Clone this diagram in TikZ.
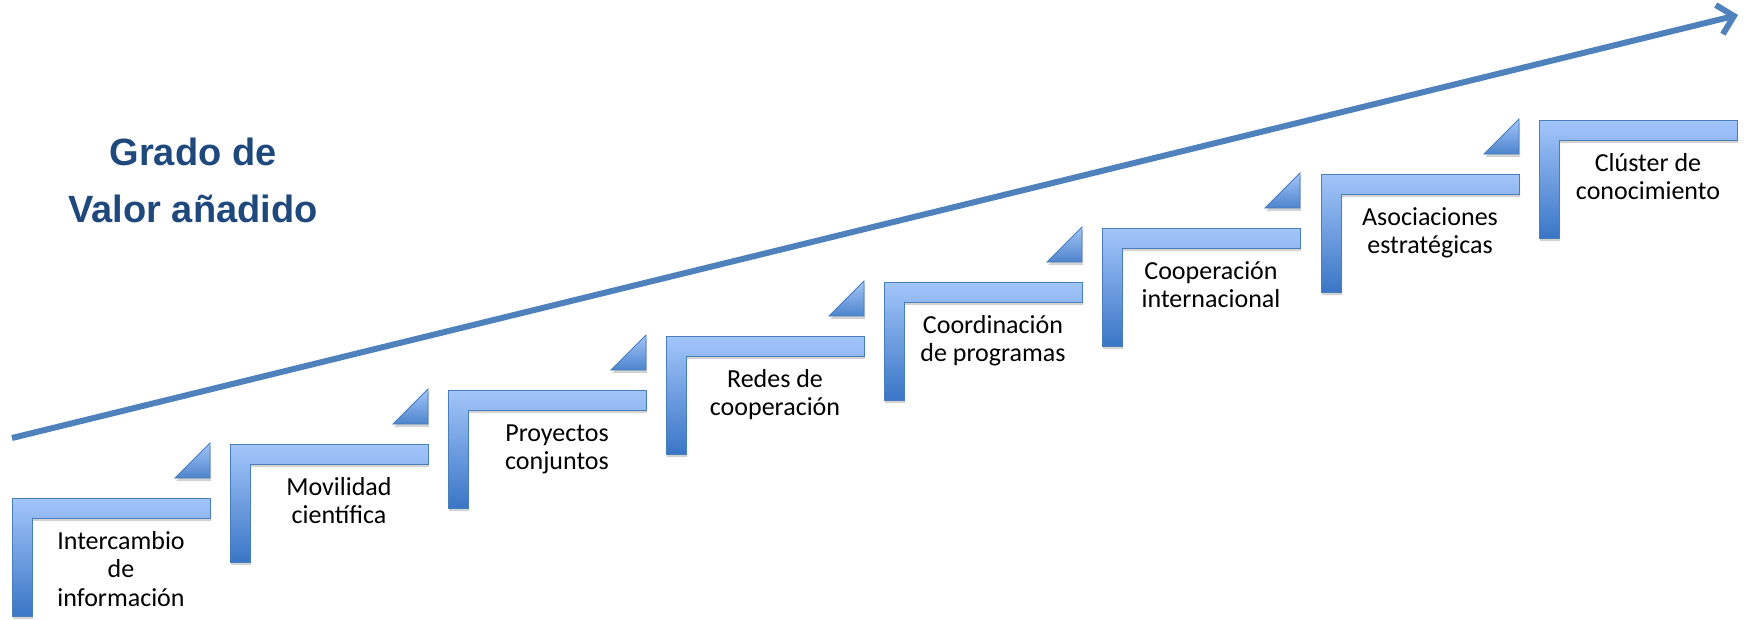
\documentclass[tikz,border=0pt]{standalone}
\usepackage{fontspec}
\setmainfont{Carlito}
\newfontfamily\titlefont{Liberation Sans}
\usetikzlibrary{arrows.meta,shadows}

\definecolor{steptop}{HTML}{A3C6FA}
\definecolor{stepbottom}{HTML}{3A76C6}
\definecolor{stepedge}{HTML}{4A7EBB}
\definecolor{arrowblue}{HTML}{4F81BD}
\definecolor{titleblue}{HTML}{1F497D}

\begin{document}
\begin{tikzpicture}[x=1pt, y=-1pt,
  stepshape/.style={draw=stepedge, line width=0.8pt, top color=steptop, bottom color=stepbottom,
    drop shadow={opacity=0.35, shadow xshift=1pt, shadow yshift=-3pt}},
  stepwedge/.style={draw=stepedge, line width=0.8pt, top color=steptop, bottom color=stepbottom!90!white,
    drop shadow={opacity=0.35, shadow xshift=1pt, shadow yshift=-3pt}},
  steplabel/.style={anchor=north, inner sep=0pt, align=center, font=\fontsize{26}{28.5}\selectfont}]
\useasboundingbox (0, 0) rectangle (1752, 619);

% Rising arrow
\coordinate (arrowstart) at (12, 438);
\coordinate (arrowend) at (1738, 15);
\draw[arrowblue, line width=6pt, -{Straight Barb[length=15pt, width=30pt]}] (arrowstart) -- (arrowend);

% Title
\node[anchor=north, inner sep=0pt, align=center, text=titleblue,
  font=\titlefont\bfseries\fontsize{38}{57}\selectfont] (titulo) at (193, 125) {\strut Grado de\\Valor añadido};

% Draw the steps and insert the labels
\draw[stepshape] (12, 498) -- ++(198, 0) -- ++(0, 20) -- ++(-178, 0) -- ++(0, 98) -- ++(-20, 0) -- cycle;
\draw[stepwedge] (175, 478) -- ++(35, 0) -- ++(0, -35) -- cycle;
\node[steplabel] (paso1) at (121, 529) {\strut Intercambio\\de\\información};
\draw[stepshape] (230, 444) -- ++(198, 0) -- ++(0, 20) -- ++(-178, 0) -- ++(0, 98) -- ++(-20, 0) -- cycle;
\draw[stepwedge] (393, 424) -- ++(35, 0) -- ++(0, -35) -- cycle;
\node[steplabel] (paso2) at (339, 475) {\strut Movilidad\\científica};
\draw[stepshape] (448, 390) -- ++(198, 0) -- ++(0, 20) -- ++(-178, 0) -- ++(0, 98) -- ++(-20, 0) -- cycle;
\draw[stepwedge] (611, 370) -- ++(35, 0) -- ++(0, -35) -- cycle;
\node[steplabel] (paso3) at (557, 421) {\strut Proyectos\\conjuntos};
\draw[stepshape] (666, 336) -- ++(198, 0) -- ++(0, 20) -- ++(-178, 0) -- ++(0, 98) -- ++(-20, 0) -- cycle;
\draw[stepwedge] (829, 316) -- ++(35, 0) -- ++(0, -35) -- cycle;
\node[steplabel] (paso4) at (775, 367) {\strut Redes de\\cooperación};
\draw[stepshape] (884, 282) -- ++(198, 0) -- ++(0, 20) -- ++(-178, 0) -- ++(0, 98) -- ++(-20, 0) -- cycle;
\draw[stepwedge] (1047, 262) -- ++(35, 0) -- ++(0, -35) -- cycle;
\node[steplabel] (paso5) at (993, 313) {\strut Coordinación\\de programas};
\draw[stepshape] (1102, 228) -- ++(198, 0) -- ++(0, 20) -- ++(-178, 0) -- ++(0, 98) -- ++(-20, 0) -- cycle;
\draw[stepwedge] (1265, 208) -- ++(35, 0) -- ++(0, -35) -- cycle;
\node[steplabel] (paso6) at (1211, 259) {\strut Cooperación\\internacional};
\draw[stepshape] (1321, 174) -- ++(198, 0) -- ++(0, 20) -- ++(-178, 0) -- ++(0, 98) -- ++(-20, 0) -- cycle;
\draw[stepwedge] (1484, 154) -- ++(35, 0) -- ++(0, -35) -- cycle;
\node[steplabel] (paso7) at (1430, 205) {\strut Asociaciones\\estratégicas};
\draw[stepshape] (1539, 120) -- ++(198, 0) -- ++(0, 20) -- ++(-178, 0) -- ++(0, 98) -- ++(-20, 0) -- cycle;
\node[steplabel] (paso8) at (1648, 151) {\strut Clúster de\\conocimiento};
\end{tikzpicture}
\end{document}
